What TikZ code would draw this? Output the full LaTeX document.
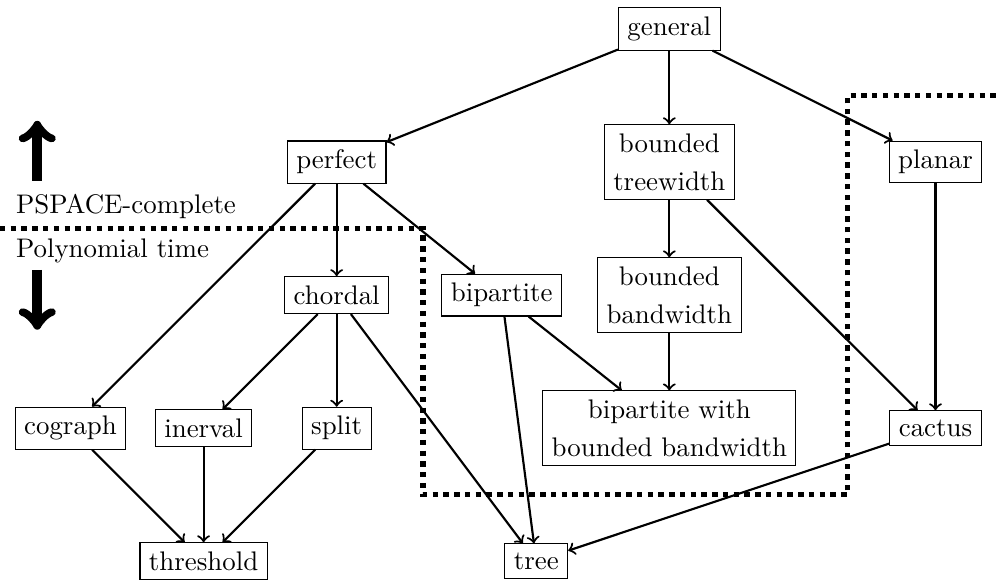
\documentclass[tikz,border=0pt]{standalone}
\usetikzlibrary{positioning, arrows}

\begin{document}
\begin{tikzpicture}[thick, x=1.74cm, y=1.74cm]
    \tikzstyle{graphclass}=[
        draw = black,
        thin,
        align = center
    ]
    \tikzstyle{bigarrow}=[->, line width=3.6pt]
    \useasboundingbox (-2.53,0.218) rectangle (4.97,-4.148);
    \begin{scope}[every node/.style=graphclass]
      \node (general) at (2.5,0) {general};
      \node (perfect) at (0,-1) {perfect};
      \node (btw) at (2.5,-1) {bounded\\[2pt]treewidth};
      \node (planar) at (4.5,-1) {planar};
      \node (chordal) at (0,-2) {chordal};
      \node (bip) at (1.24,-2) {bipartite};
      \node (bbw) at (2.5,-2) {bounded\\[2pt]bandwidth};
      \node (cograph) at (-2,-3) {cograph};
      \node (interval) at (-1,-3) {inerval};
      \node (split) at (0,-3) {split};
      \node (bipbbw) at (2.5,-3) {bipartite with\\[2pt]bounded bandwidth};
      \node (cactus) at (4.5,-3) {cactus};
      \node (threshold) at (-1,-4) {threshold};
      \node (tree) at (1.5,-4) {tree};
    \end{scope}
    % complexity border
    \draw[line width=2pt, dotted] (-2.53,-1.5) -- (0.65,-1.5) -- (0.65,-3.5)
        -- (3.84,-3.5) -- (3.84,-0.5) -- (4.97,-0.5);
    \node[anchor=south west] (pspace) at (-2.485,-1.5) {PSPACE-complete};
    \node[anchor=north west] (poly) at (-2.485,-1.5) {Polynomial time};
    \coordinate (upfoot) at (-2.25,-1.14);
    \coordinate (uptip) at (-2.25,-0.69);
    \coordinate (downfoot) at (-2.25,-1.81);
    \coordinate (downtip) at (-2.25,-2.26);
    \draw[bigarrow] (upfoot) -- (uptip);
    \draw[bigarrow] (downfoot) -- (downtip);
    \path[->] (general) edge (perfect)
              (general) edge (btw)
              (general) edge (planar)
              (perfect) edge (chordal)
              (perfect) edge (bip)
              (perfect) edge (cograph)
              (btw) edge (bbw)
              (btw) edge (cactus)
              (planar) edge (cactus)
              (chordal) edge (interval)
              (chordal) edge (split)
              (chordal) edge (tree)
              (bip) edge (bipbbw)
              (bip) edge (tree)
              (bbw) edge (bipbbw)
              (cograph) edge (threshold)
              (interval) edge (threshold)
              (split) edge (threshold)
              (cactus) edge (tree);
\end{tikzpicture}
\end{document}
